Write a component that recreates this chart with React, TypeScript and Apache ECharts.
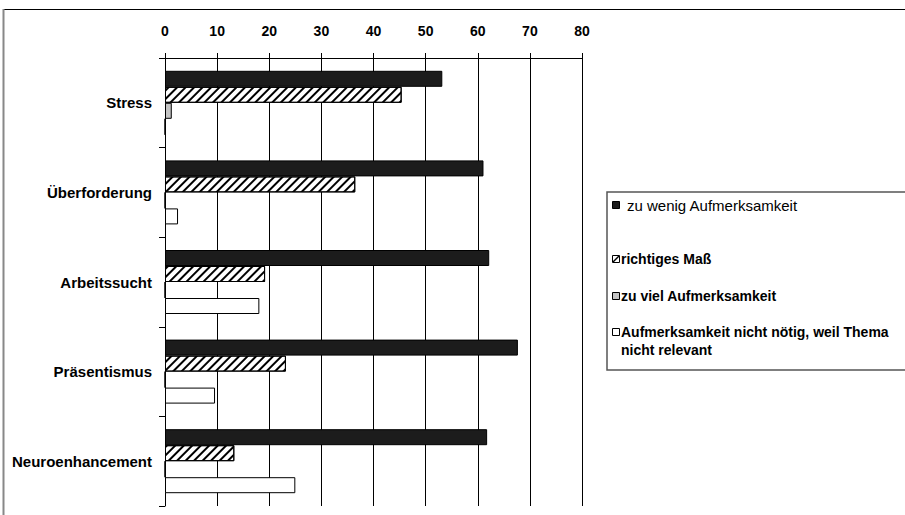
import React, { useEffect, useRef } from "react";
import * as echarts from "echarts";

// Themen (Kategorien), von oben nach unten
const categories = ["Stress", "Überforderung", "Arbeitssucht", "Präsentismus", "Neuroenhancement"];

// Antwortkategorien
const seriesNames = [
  "zu wenig Aufmerksamkeit",
  "richtiges Maß",
  "zu viel Aufmerksamkeit",
  "Aufmerksamkeit nicht nötig, weil Thema nicht relevant",
];

// Werte in Prozent je Thema
const zuWenig = [53.2, 61.1, 62.2, 67.7, 61.8];
const richtigesMass = [45.4, 36.5, 19.2, 23.2, 13.3];
const zuViel = [1.3, 0, 0, 0, 0];
const nichtNoetig = [0, 2.5, 18.1, 9.6, 25.0];

// Achsenskala
const axisMin = 0;
const axisMax = 80;
const axisStep = 10;

const FONT = "'Liberation Sans', Arial, sans-serif";

export default function App() {
  const ref = useRef<HTMLDivElement>(null);

  useEffect(() => {
    if (!ref.current) return;
    const chart = echarts.init(ref.current, null, { renderer: "svg" });

    const border = { borderColor: "#000", borderWidth: 1 };
    const seriesData = [zuWenig, richtigesMass, zuViel, nichtNoetig];
    const styles = [
      { color: "#1c1c1c", ...border },
      {
        color: "#fff",
        ...border,
        decal: {
          symbol: "rect",
          symbolSize: 1,
          color: "#000",
          dashArrayX: [1, 0],
          dashArrayY: [2, 4],
          rotation: -Math.PI / 4,
        },
      },
      { color: "#c4c4c4", ...border },
      { color: "#fff", ...border },
    ];

    // Legende als Grafikelemente; der lange Eintrag wird vor "nicht relevant" umbrochen
    const legendRows = [
      { y: 205, weight: "normal" as const, size: 15, textX: 627 },
      { y: 259, weight: "bold" as const, size: 14, textX: 621 },
      { y: 296, weight: "bold" as const, size: 14, textX: 621 },
      { y: 332, weight: "bold" as const, size: 14, textX: 621 },
    ];
    const markerFill = ["#1c1c1c", "#fff", "#c4c4c4", "#fff"];
    const legendItems: any[] = [];
    legendRows.forEach((row, i) => {
      legendItems.push({
        type: "rect",
        shape: { x: 612.5, y: row.y - 3.5, width: 7, height: 7 },
        style: { fill: markerFill[i], stroke: "#000", lineWidth: 1 },
      });
      if (i === 1) {
        legendItems.push({
          type: "line",
          shape: { x1: 613, y1: row.y + 3, x2: 619, y2: row.y - 3 },
          style: { stroke: "#000", lineWidth: 1.5 },
        });
      }
      legendItems.push({
        type: "text",
        x: row.textX,
        y: row.y - 9,
        style: {
          text: seriesNames[i].replace(" nicht relevant", "\nnicht relevant"),
          fill: "#000",
          font: `${row.weight} ${row.size}px ${FONT}`,
          lineHeight: 18,
          verticalAlign: "top",
        },
      });
    });

    chart.setOption({
      animation: false,
      backgroundColor: "#fff",
      grid: { left: 165, right: 323, top: 58, bottom: 9, containLabel: false },
      xAxis: {
        type: "value",
        position: "top",
        min: axisMin,
        max: axisMax,
        interval: axisStep,
        axisLine: { show: true, lineStyle: { color: "#000", width: 1 } },
        axisTick: { show: true, length: 5, lineStyle: { color: "#000" } },
        axisLabel: {
          color: "#000",
          fontSize: 14,
          fontWeight: "bold",
          fontFamily: FONT,
          margin: 20,
        },
        splitLine: { show: true, lineStyle: { color: "#000", width: 1 } },
      },
      yAxis: {
        type: "category",
        inverse: true,
        data: categories,
        axisLine: { show: true, lineStyle: { color: "#000", width: 1 } },
        axisTick: { show: true, length: 6, lineStyle: { color: "#000" } },
        axisLabel: {
          color: "#000",
          fontSize: 15,
          fontWeight: "bold",
          fontFamily: FONT,
          margin: 13,
        },
        splitLine: { show: false },
      },
      series: seriesNames.map((name, i) => ({
        name,
        type: "bar",
        data: seriesData[i],
        barWidth: 16,
        barGap: "0%",
        itemStyle: styles[i],
      })),
      graphic: [
        // Rahmen
        {
          type: "line",
          shape: { x1: 3, y1: 9.5, x2: 905, y2: 9.5 },
          style: { stroke: "#000", lineWidth: 1 },
        },
        {
          type: "line",
          shape: { x1: 3.5, y1: 9, x2: 3.5, y2: 515 },
          style: { stroke: "#888", lineWidth: 2 },
        },
        // Legendenrahmen
        {
          type: "rect",
          shape: { x: 607, y: 192, width: 310, height: 178 },
          style: { fill: "#fff", stroke: "#555", lineWidth: 1.5 },
        },
        ...legendItems,
      ],
    });

    return () => chart.dispose();
  }, []);

  return (
    <div
      ref={ref}
      style={{ position: "absolute", left: 0, top: 0, width: 905, height: 515, background: "#fff" }}
    />
  );
}
